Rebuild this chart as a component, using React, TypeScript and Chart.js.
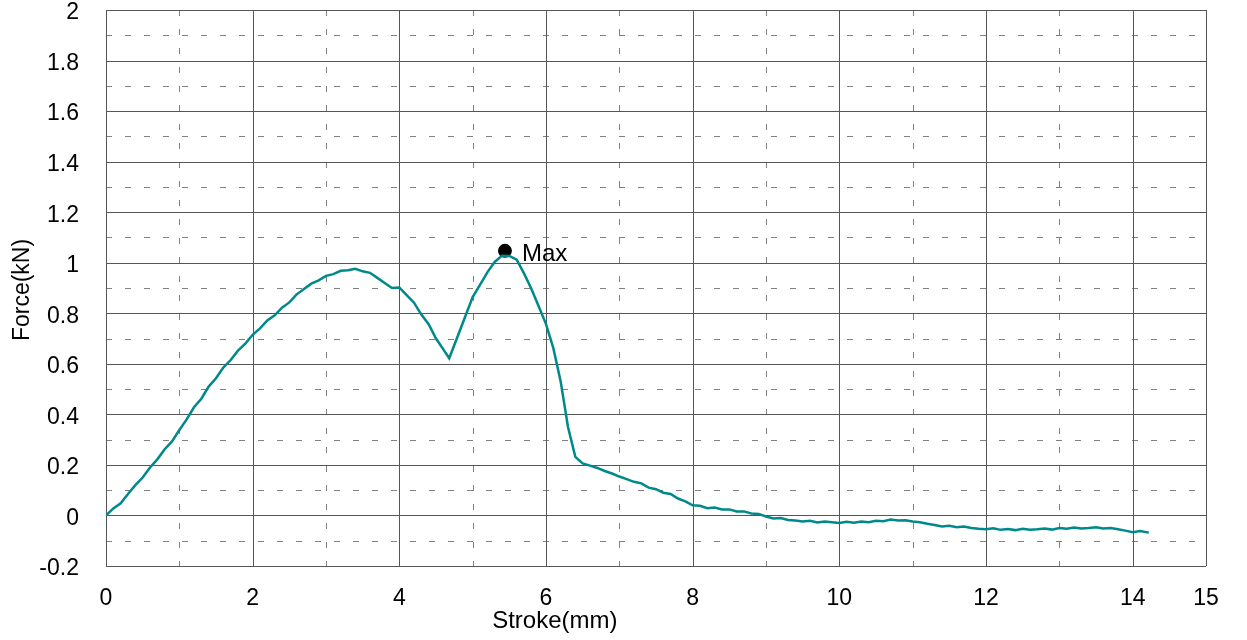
import React, { useEffect, useRef } from "react";
import { Chart, registerables } from "chart.js";

Chart.register(...registerables);

const FONT = "'Liberation Sans', Arial, Helvetica, sans-serif";

// Stroke (mm) samples
const strokeMm = [
  0.0, 0.1, 0.2, 0.3, 0.4, 0.5, 0.6, 0.7, 0.8, 0.9,
  1.0, 1.1, 1.2, 1.3, 1.4, 1.5, 1.6, 1.7, 1.8, 1.9,
  2.0, 2.1, 2.2, 2.3, 2.4, 2.5, 2.6, 2.7, 2.8, 2.9,
  3.0, 3.1, 3.2, 3.3, 3.4, 3.5, 3.6, 3.7, 3.8, 3.9,
  4.0, 4.1, 4.2, 4.3, 4.4, 4.5, 4.6, 4.68, 4.8, 4.9,
  5.0, 5.1, 5.2, 5.3, 5.4, 5.5, 5.6, 5.7, 5.8, 5.9,
  6.0, 6.1, 6.2, 6.3, 6.4, 6.5, 6.6, 6.7, 6.8, 6.9,
  7.0, 7.1, 7.2, 7.3, 7.4, 7.5, 7.6, 7.7, 7.8, 7.9,
  8.0, 8.1, 8.2, 8.3, 8.4, 8.5, 8.6, 8.7, 8.8, 8.9,
  9.0, 9.1, 9.2, 9.3, 9.4, 9.5, 9.6, 9.7, 9.8, 9.9,
  10.0, 10.1, 10.2, 10.3, 10.4, 10.5, 10.6, 10.7, 10.8, 10.9,
  11.0, 11.1, 11.2, 11.3, 11.4, 11.5, 11.6, 11.7, 11.8, 11.9,
  12.0, 12.1, 12.2, 12.3, 12.4, 12.5, 12.6, 12.7, 12.8, 12.9,
  13.0, 13.1, 13.2, 13.3, 13.4, 13.5, 13.6, 13.7, 13.8, 13.9,
  14.0, 14.1, 14.22,
];

// Force (kN) samples
const forceKn = [
  0.0, 0.028, 0.048, 0.085, 0.12, 0.15, 0.19, 0.222, 0.262, 0.293,
  0.338, 0.38, 0.428, 0.462, 0.51, 0.543, 0.585, 0.615, 0.652, 0.68,
  0.715, 0.74, 0.772, 0.792, 0.822, 0.843, 0.875, 0.896, 0.917, 0.93,
  0.948, 0.955, 0.968, 0.97, 0.976, 0.966, 0.96, 0.94, 0.92, 0.9,
  0.902, 0.872, 0.842, 0.795, 0.757, 0.7, 0.657, 0.622, 0.712, 0.788,
  0.864, 0.912, 0.962, 1.003, 1.028, 1.027, 1.012, 0.958, 0.897, 0.828,
  0.757, 0.662, 0.53, 0.35, 0.232, 0.206, 0.197, 0.188, 0.176, 0.166,
  0.154, 0.144, 0.133, 0.127, 0.11, 0.104, 0.09, 0.085, 0.067, 0.056,
  0.04, 0.038, 0.029, 0.031, 0.024, 0.024, 0.016, 0.016, 0.008, 0.006,
  -0.004, -0.012, -0.01, -0.018, -0.02, -0.024, -0.021, -0.028, -0.024, -0.027,
  -0.03, -0.025, -0.029, -0.024, -0.027, -0.021, -0.023, -0.016, -0.02, -0.019,
  -0.024, -0.027, -0.033, -0.038, -0.044, -0.041, -0.047, -0.044, -0.05, -0.053,
  -0.055, -0.051, -0.057, -0.054, -0.058, -0.053, -0.057, -0.055, -0.052, -0.056,
  -0.05, -0.053, -0.048, -0.052, -0.05, -0.047, -0.052, -0.05, -0.055, -0.06,
  -0.066, -0.062, -0.068,
];

// Max marker
const maxStroke = [5.44];
const maxForce = [1.047];
const maxLabel = "Max";

// Axis labels
const xLabelValues = [0, 2, 4, 6, 8, 10, 12, 14, 15];
const xTitle = "Stroke(mm)";
const yTitle = "Force(kN)";

const SOLID = "#565656";
const DASHED = "#808080";

const gridPlugin = {
  id: "customGrid",
  beforeDatasetsDraw(chart: any) {
    const { ctx, chartArea: a, scales } = chart;
    const xs = scales.x;
    const ys = scales.y;
    ctx.save();
    ctx.lineWidth = 1;
    ctx.setLineDash([6, 13]);
    ctx.strokeStyle = DASHED;
    xs.ticks.forEach((t: any) => {
      const v = Math.round(t.value);
      if (xLabelValues.includes(v)) return;
      const px = Math.round(xs.getPixelForValue(t.value)) + 0.5;
      ctx.beginPath();
      ctx.moveTo(px, a.top);
      ctx.lineTo(px, a.bottom);
      ctx.stroke();
    });
    ys.ticks.forEach((t: any) => {
      const k = Math.round(t.value * 10);
      if (k % 2 === 0) return;
      const py = Math.round(ys.getPixelForValue(t.value)) + 0.5;
      ctx.beginPath();
      ctx.moveTo(a.left, py);
      ctx.lineTo(a.right, py);
      ctx.stroke();
    });
    ctx.setLineDash([]);
    ctx.strokeStyle = SOLID;
    xs.ticks.forEach((t: any) => {
      const v = Math.round(t.value);
      if (!xLabelValues.includes(v)) return;
      const px = Math.round(xs.getPixelForValue(t.value)) + 0.5;
      ctx.beginPath();
      ctx.moveTo(px, a.top);
      ctx.lineTo(px, a.bottom);
      ctx.stroke();
    });
    ys.ticks.forEach((t: any) => {
      const k = Math.round(t.value * 10);
      if (k % 2 !== 0) return;
      const py = Math.round(ys.getPixelForValue(t.value)) + 0.5;
      ctx.beginPath();
      ctx.moveTo(a.left, py);
      ctx.lineTo(a.right, py);
      ctx.stroke();
    });
    ctx.restore();
  },
  afterDatasetsDraw(chart: any) {
    const { ctx, chartArea: a, scales } = chart;
    ctx.save();
    ctx.fillStyle = "#000";
    const meta = chart.getDatasetMeta(1);
    const pt = meta.data[0];
    if (pt) {
      ctx.font = `24px ${FONT}`;
      ctx.textAlign = "left";
      ctx.textBaseline = "middle";
      ctx.fillText(maxLabel, pt.x + 17, pt.y + 4);
    }
    ctx.font = `24px ${FONT}`;
    ctx.textAlign = "center";
    ctx.textBaseline = "middle";
    ctx.fillText(xTitle, scales.x.getPixelForValue(6.12), a.bottom + 55);
    ctx.font = `23px ${FONT}`;
    ctx.translate(23, (a.top + a.bottom) / 2 + 2);
    ctx.rotate(-Math.PI / 2);
    ctx.fillText(yTitle, 0, 0);
    ctx.restore();
  },
};

export default function App() {
  const ref = useRef<HTMLCanvasElement | null>(null);

  useEffect(() => {
    if (!ref.current) return;
    const chart = new Chart(ref.current, {
      type: "line",
      data: {
        datasets: [
          {
            data: strokeMm.map((x, i) => ({ x, y: forceKn[i] })),
            borderColor: "#00898a",
            borderWidth: 2.5,
            pointRadius: 0,
            tension: 0,
            fill: false,
          },
          {
            data: maxStroke.map((x, i) => ({ x, y: maxForce[i] })),
            showLine: false,
            pointRadius: 7,
            pointBackgroundColor: "#000",
            pointBorderColor: "#000",
            pointBorderWidth: 0,
          },
        ],
      },
      options: {
        responsive: false,
        animation: false,
        devicePixelRatio: 1,
        layout: { padding: { left: 0, top: 10, right: 41, bottom: 0 } },
        plugins: {
          legend: { display: false },
          tooltip: { enabled: false },
        },
        scales: {
          x: {
            type: "linear",
            min: 0,
            max: 15,
            afterFit: (s: any) => {
              s.height = 74;
              s.paddingLeft = 0;
              s.paddingRight = 0;
            },
            grid: { display: false },
            border: { display: false },
            ticks: {
              stepSize: 1,
              autoSkip: false,
              maxRotation: 0,
              padding: 11,
              color: "#000",
              font: { size: 23, family: FONT },
              callback: (v: any) => (xLabelValues.includes(Math.round(v)) ? String(Math.round(v)) : ""),
            },
          },
          y: {
            type: "linear",
            min: -0.2,
            max: 2,
            afterFit: (s: any) => {
              s.width = 106;
              s.paddingTop = 0;
              s.paddingBottom = 0;
            },
            grid: { display: false },
            border: { display: false },
            ticks: {
              stepSize: 0.1,
              autoSkip: false,
              padding: 19,
              labelOffset: 3,
              color: "#000",
              font: { size: 23, family: FONT },
              callback: (v: any) => {
                const k = Math.round(v * 10);
                return k % 2 === 0 ? String(k / 10) : "";
              },
            },
          },
        },
      },
      plugins: [gridPlugin],
    });
    return () => chart.destroy();
  }, []);

  return (
    <div style={{ position: "absolute", left: 0, top: 0, width: 1247, height: 640, background: "#fff" }}>
      <canvas ref={ref} width={1247} height={640} />
    </div>
  );
}
